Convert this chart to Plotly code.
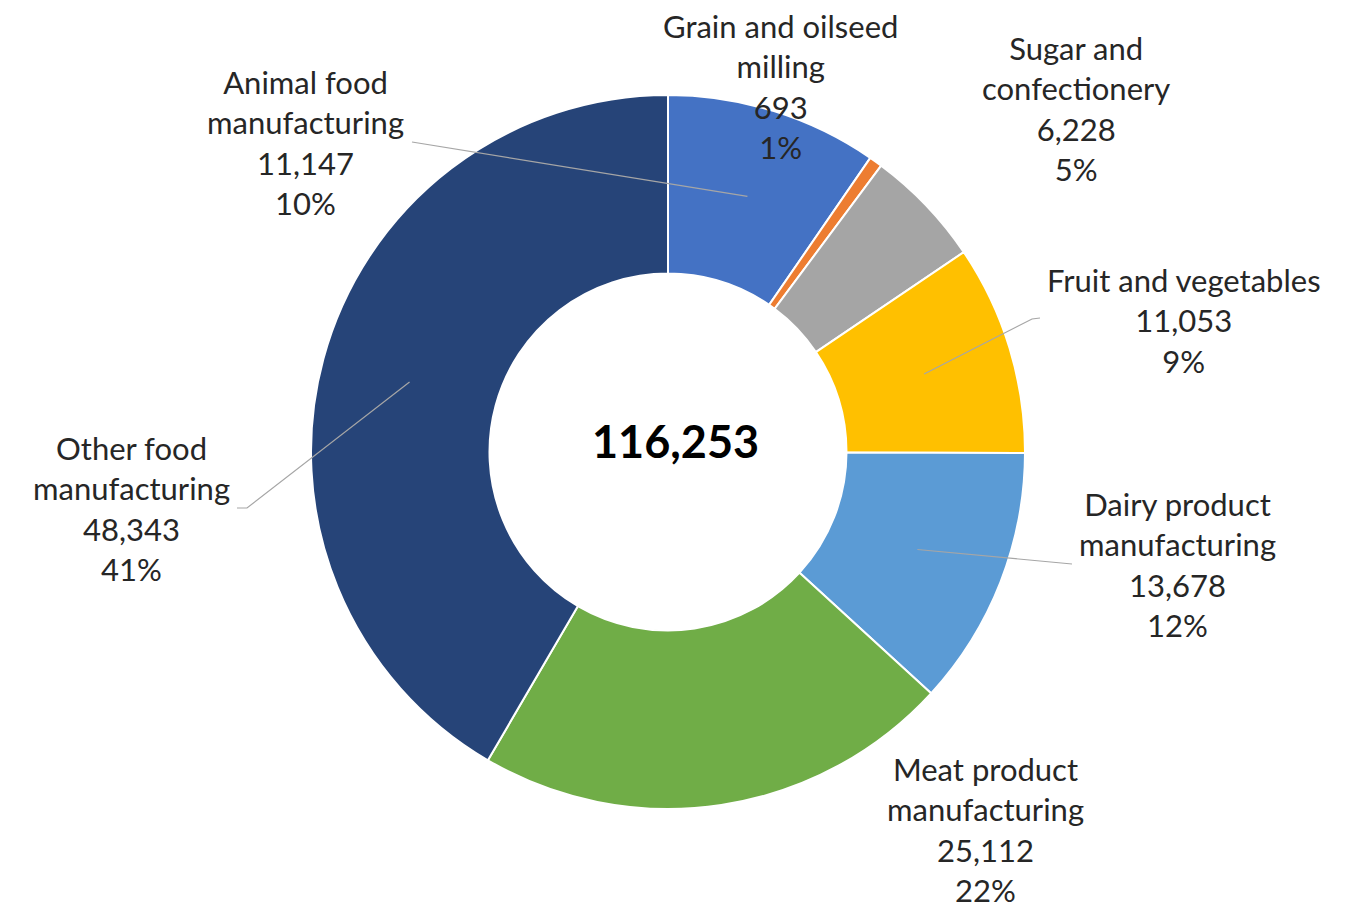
import math
import plotly.graph_objects as go

# Food manufacturing employment by subsector
categories = [
    "Animal food manufacturing",
    "Grain and oilseed milling",
    "Sugar and confectionery",
    "Fruit and vegetables",
    "Dairy product manufacturing",
    "Meat product manufacturing",
    "Other food manufacturing",
]
label_names = [
    "Animal food<br>manufacturing",
    "Grain and oilseed<br>milling",
    "Sugar and<br>confectionery",
    "Fruit and vegetables",
    "Dairy product<br>manufacturing",
    "Meat product<br>manufacturing",
    "Other food<br>manufacturing",
]
values = [11147, 693, 6228, 11053, 13678, 25112, 48343]
pct_labels = ["10%", "1%", "5%", "9%", "12%", "22%", "41%"]
total_label = "116,253"
colors = ["#4472C4", "#ED7D31", "#A5A5A5", "#FFC000", "#5B9BD5", "#70AD47", "#264478"]

# Layout (pixels)
W, H = 1354, 903
CX, CY, R = 668, 452, 357
HOLE = 0.5
FONT = "Lato"
TEXT_COLOR = "#262626"
LEADER_COLOR = "#A6A6A6"

# label block centres
label_pos = [(305, 142), (780, 86), (1076, 108), (1184, 320),
             (1177, 564), (985, 829), (131, 508)]
# leader line start points next to labels (None = no leader)
leader_start = [[(412, 142)], None, None, [(1040, 318), (1032, 319)],
                [(1072, 564)], None, [(237, 508), (247, 508)]]


def px(x):
    return x / W


def py(y):
    return 1 - y / H


fig = go.Figure(go.Pie(
    labels=categories,
    values=values,
    hole=HOLE,
    sort=False,
    direction="clockwise",
    rotation=0,
    textinfo="none",
    hoverinfo="label+value+percent",
    marker=dict(colors=colors, line=dict(color="white", width=2)),
    domain=dict(x=[px(CX - R), px(CX + R)], y=[py(CY + R), py(CY - R)]),
    showlegend=False,
))

# mid-ring point of each slice for leader lines
total = sum(values)
cum = 0
shapes = []
r_mid = R * (1 + HOLE) / 2
for i, v in enumerate(values):
    theta = 2 * math.pi * (cum + v / 2) / total
    cum += v
    if leader_start[i] is None:
        continue
    tx = CX + r_mid * math.sin(theta)
    ty = CY - r_mid * math.cos(theta)
    pts = leader_start[i] + [(tx, ty)]
    path = "M " + " L ".join(f"{px(x)},{py(y)}" for x, y in pts)
    shapes.append(dict(type="path", path=path, xref="paper", yref="paper",
                       line=dict(color=LEADER_COLOR, width=1.2)))

annotations = []
for name, v, pct, (lx, ly) in zip(label_names, values, pct_labels, label_pos):
    annotations.append(dict(
        x=px(lx), y=py(ly), xref="paper", yref="paper",
        text=f"{name}<br>{v:,}<br>{pct}",
        showarrow=False, xanchor="center", yanchor="middle", align="center",
        font=dict(family=FONT, size=31, color=TEXT_COLOR),
    ))

annotations.append(dict(
    x=px(675), y=py(441), xref="paper", yref="paper",
    text=f"<b>{total_label}</b>", showarrow=False,
    xanchor="center", yanchor="middle",
    font=dict(family=FONT, size=45, color="#000000"),
))

fig.update_layout(
    width=W, height=H,
    margin=dict(l=0, r=0, t=0, b=0),
    paper_bgcolor="white",
    plot_bgcolor="white",
    shapes=shapes,
    annotations=annotations,
)

fig.write_html("out.html")
